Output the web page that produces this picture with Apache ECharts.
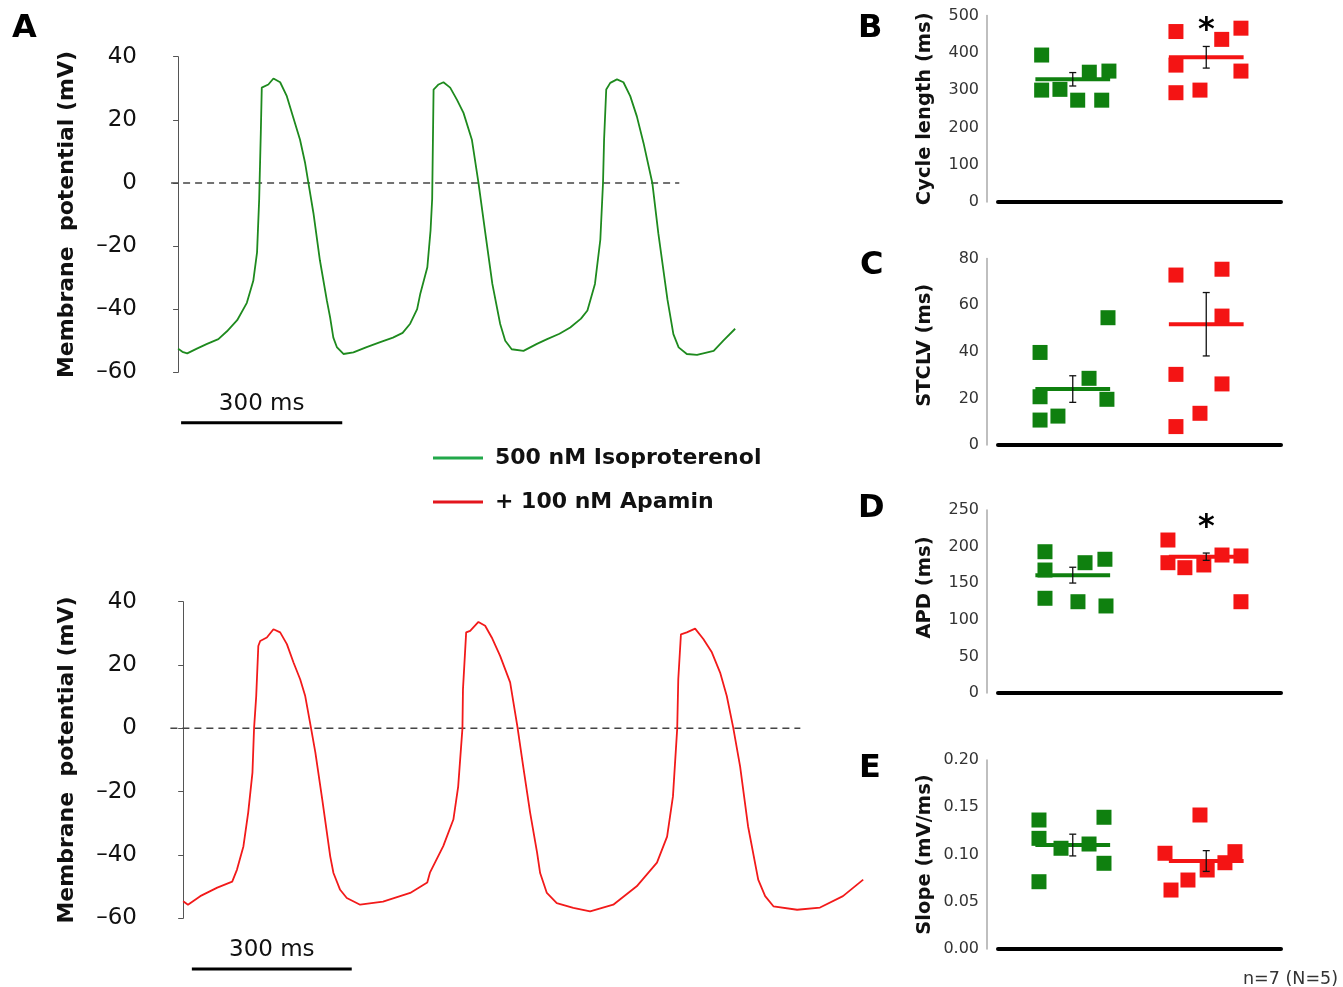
<!DOCTYPE html>
<html>
<head>
<meta charset="utf-8">
<script src="https://cdn.jsdelivr.net/npm/echarts@6/dist/echarts.min.js"></script>
<style>
html,body{margin:0;padding:0;background:#fff;}
#chart{width:1343px;height:987px;}
</style>
</head>
<body>
<div id="chart"></div>
<script>
// ---------------- DATA ----------------
const groups = ['500 nM Isoproterenol', '+ 100 nM Apamin'];

// Panel A traces: [time (ms), membrane potential (mV)]
const traceIso = [[0,-52.5],[8,-53.5],[17,-54],[35,-52.5],[54,-51],[75,-49.5],[91,-47],[110,-43.5],[128,-38],[140,-31],[147,-22],[151,-5],[154,16],[155.8,30.2],[168,31.2],[177.5,33.1],[190,31.9],[202.4,27.5],[214.7,20.6],[227,13.7],[236.5,6.3],[242.6,0],[252,-9.6],[264,-24.5],[277,-37.3],[283,-42.6],[289,-49],[295.5,-52],[307.8,-54.2],[326.4,-53.7],[351,-52],[375,-50.5],[400,-49],[418,-47.5],[432,-44.6],[445,-40],[451,-35],[464,-26.7],[470,-15],[473,-5],[475.6,29.6],[484.9,31.2],[494,31.9],[506.5,30.2],[519,26.4],[531.3,22.2],[546.9,13.7],[559.2,0],[572,-16],[585,-32],[599.6,-44.7],[609,-50],[621,-52.7],[643,-53.2],[668,-51],[687,-49.5],[710,-47.8],[730,-45.8],[750,-43],[762,-40.4],[776,-32],[786,-18],[791,0],[793,13.7],[797,29.6],[804.5,31.7],[817,32.8],[829,31.9],[841.7,27.5],[854,21.1],[866.5,12.6],[882.8,0],[894,-16],[911,-37],[922,-47.9],[931.8,-52.1],[947,-54.2],[966,-54.5],[997,-53.2],[1015,-50],[1037,-46.2]];
const traceApa = [[0,-54.6],[9,-55.7],[32,-53],[64,-50.3],[92,-48.4],[101,-44.6],[113,-37.3],[122,-26.6],[130,-14],[133,0],[137,10],[141,26],[144.5,27.6],[157,28.7],[169.4,31.3],[182,30.3],[194.6,26.6],[207,20.8],[219.5,15.5],[229,10.2],[240,0],[248,-7.6],[261,-22.5],[276,-40.5],[282,-45.7],[294.5,-51],[307,-53.6],[332,-55.7],[375,-54.7],[426,-52],[458,-48.7],[463,-45.6],[488,-37.2],[507,-28.8],[516,-18.4],[524,0],[525,12.3],[531,30.3],[538.5,30.8],[554,33.6],[566.6,32.4],[579,28.7],[594.7,22.9],[613.5,14.5],[627,0.7],[638,-12],[651,-26.6],[664,-39.2],[669.8,-45.7],[682.4,-52],[701,-55.2],[732,-56.7],[763.6,-57.8],[807,-55.7],[851,-49.9],[889,-42.4],[908,-34.2],[919,-21.5],[927,0],[929,15.5],[934,29.7],[945,30.3],[960.6,31.5],[976,28.2],[992,24],[1007.5,17.6],[1020,10.2],[1032,0.3],[1045,-12],[1060,-31],[1079,-47.8],[1092,-53],[1107.5,-56.2],[1152,-57.3],[1195,-56.6],[1238,-53],[1276,-47.8]];
const zeroLineIso = [-13, 933];      // ms extent of the 0 mV reference line
const zeroLineApa = [-24, 1158];
const scaleBarMs = 300;
const scaleBarStartIso = 5.6, scaleBarStartApa = 16.3;

// Panels B-E (n = 7 each); index 0 = Isoproterenol, 1 = + Apamin
const cycleIso = [394, 300, 302, 273, 348, 273, 351];
const cycleApa = [457, 300, 293, 436, 466, 367, 351];
const cycleMean = [329, 388], cycleSem = [18, 29];

const stclvIso = [39.7, 20.7, 10.7, 12.4, 28.6, 54.6, 19.6];
const stclvApa = [72.9, 75.4, 55.3, 30.3, 26.2, 13.6, 7.9];
const stclvMean = [24, 51.8], stclvSem = [5.7, 13.6];

const apdIso = [193, 168, 129.4, 124.7, 178, 182.7, 118.9];
const apdApa = [209, 178, 171.2, 174.9, 188.5, 187.2, 124.7];
const apdMean = [161, 186.2], apdSem = [10.8, 5];

const slopeIso = [0.1365, 0.1171, 0.0712, 0.1066, 0.1111, 0.1394, 0.0907];
const slopeApa = [0.1418, 0.1013, 0.0624, 0.0730, 0.0836, 0.0913, 0.1030];
const slopeMean = [0.110, 0.0931], slopeSem = [0.0115, 0.011];

// horizontal jitter of the dots around group 1 / group 2
const jitB = [[0.767,0.767,0.904,1.037,1.124,1.217,1.271],[1.773,1.953,1.773,2.116,2.26,1.773,2.26]];
const jitC = [[0.755,0.755,0.755,0.889,1.122,1.264,1.256],[1.773,2.118,2.118,1.773,2.118,1.953,1.773]];
const jitD = [[0.792,0.792,0.792,1.039,1.092,1.241,1.249],[1.713,1.713,1.84,1.982,2.118,2.26,2.26]];
const jitE = [[0.747,0.747,0.747,0.912,1.122,1.234,1.234],[1.953,1.691,1.736,1.863,2.007,2.14,2.215]];

const starB = 477, starD = 235;   // significance markers (* vs isoproterenol)
const nLabel = 'n=7 (N=5)';

// ---------------- STYLE ----------------
const FONT = "'DejaVu Sans', sans-serif";
const TRACE_COL = ['#1e8a1e', '#f21a1a'];
const LEG_COL = ['#22a84a', '#e3161d'];
const SQ_COL = ['#0f800f', '#f41414'];
const HALF = 0.28;

const chart = echarts.init(document.getElementById('chart'), null, {renderer: 'canvas'});

const grids = [
  {left: 148, top: 56.7, width: 621, height: 315.6},
  {left: 148, top: 601.7, width: 728, height: 316.6},
  {left: 998, top: 15.5, width: 283, height: 186.5},
  {left: 998, top: 258.5, width: 283, height: 186.5},
  {left: 998, top: 510, width: 283, height: 183},
  {left: 998, top: 760, width: 283, height: 189}
];

const xAxes = [
  {gridIndex: 0, type: 'value', min: -56, max: 1100, show: false},
  {gridIndex: 1, type: 'value', min: -66, max: 1300, show: false}
];
for (let g = 2; g < 6; g++) {
  xAxes.push({gridIndex: g, type: 'value', min: 0.44, max: 2.56,
    axisLine: {show: true, lineStyle: {color: '#000', width: 4}},
    axisTick: {show: false}, axisLabel: {show: false}, splitLine: {show: false}});
}

function traceY(gi) {
  return {gridIndex: gi, type: 'value', min: -60, max: 40, interval: 20,
    name: 'Membrane  potential (mV)', nameLocation: 'middle', nameGap: 70,
    nameTextStyle: {fontFamily: FONT, fontWeight: 'bold', fontSize: 22, color: '#111'},
    axisLine: {show: true, lineStyle: {color: '#555', width: 1}},
    axisTick: {show: true, length: 5, lineStyle: {color: '#555'}},
    axisLabel: {fontFamily: FONT, fontSize: 23, color: '#111', margin: 11,
      formatter: v => String(v).replace('-', '\u2013')},
    splitLine: {show: false}};
}
function statY(gi, name, max, interval, fmt, pad) {
  return {gridIndex: gi, type: 'value', min: 0, max: max, interval: interval, offset: 11,
    name: name, nameLocation: 'middle', nameGap: 52,
    nameTextStyle: {fontFamily: FONT, fontWeight: 'bold', fontSize: 19.5, color: '#111', padding: pad},
    axisLine: {show: true, lineStyle: {color: '#aaa', width: 1.5}},
    axisTick: {show: false},
    axisLabel: {fontFamily: FONT, fontSize: 16, color: '#333', margin: 8, formatter: fmt},
    splitLine: {show: false}};
}
const yAxes = [
  traceY(0), traceY(1),
  statY(2, 'Cycle length (ms)', 500, 100, null, [0,0,0,0]),
  statY(3, 'STCLV (ms)', 80, 20, null, [0,0,0,13]),
  statY(4, 'APD (ms)', 250, 50, null, [0,0,0,28]),
  statY(5, 'Slope (mV/ms)', 0.2, 0.05, v => v.toFixed(2), [0,0,0,0])
];

const series = [];
// ---- Panel A traces ----
function tracePanel(idx, data, zero, sbStart, color, name) {
  series.push({type: 'line', name: 'zero' + idx, xAxisIndex: idx, yAxisIndex: idx,
    data: [[zero[0], 0], [zero[1], 0]], symbol: 'none', silent: true,
    lineStyle: {color: '#444', width: 1.5, type: [7, 5]}, z: 1});
  series.push({type: 'line', name: name, xAxisIndex: idx, yAxisIndex: idx, data: data,
    symbol: 'none', lineStyle: {color: color, width: 1.8}, itemStyle: {color: color}, z: 2});
  // scale bar below the trace
  series.push({type: 'line', name: 'bar' + idx, xAxisIndex: idx, yAxisIndex: idx, clip: false,
    data: [[sbStart, -76], [sbStart + scaleBarMs, -76]], symbol: 'none',
    lineStyle: {color: '#000', width: 3}, z: 2});
  series.push({type: 'scatter', name: 'barlabel' + idx, xAxisIndex: idx, yAxisIndex: idx, clip: false,
    data: [[sbStart + scaleBarMs / 2, -70]], symbolSize: 1, itemStyle: {color: 'rgba(0,0,0,0)', opacity: 1},
    label: {show: true, position: 'inside', formatter: scaleBarMs + ' ms',
      fontFamily: FONT, fontSize: 23, color: '#111'}, silent: true});
}
tracePanel(0, traceIso, zeroLineIso, scaleBarStartIso, TRACE_COL[0], groups[0]);
tracePanel(1, traceApa, zeroLineApa, scaleBarStartApa, TRACE_COL[1], groups[1]);

// ---- Panels B-E ----
function statPanel(idx, vals, jit, mean, sem, star) {
  [0, 1].forEach(k => {
    series.push({type: 'scatter', name: 'dots' + idx + k, xAxisIndex: idx, yAxisIndex: idx,
      symbol: 'rect', symbolSize: 15, itemStyle: {color: SQ_COL[k], opacity: 1},
      data: vals[k].map((v, i) => [jit[k][i], v]), z: 2});
    series.push({type: 'line', name: 'mean' + idx + k, xAxisIndex: idx, yAxisIndex: idx,
      data: [[k + 1 - HALF, mean[k]], [k + 1 + HALF, mean[k]]], symbol: 'none',
      lineStyle: {color: SQ_COL[k], width: 4}, z: 3});
  });
  series.push({type: 'custom', name: 'err' + idx, xAxisIndex: idx, yAxisIndex: idx, z: 5,
    data: mean.map((m, k) => [k + 1, m - sem[k], m + sem[k]]),
    encode: {x: 0, y: [1, 2]},
    renderItem: (params, api) => {
      const x = api.value(0);
      const top = api.coord([x, api.value(2)]);
      const bot = api.coord([x, api.value(1)]);
      const cw = 3.5;
      const st = {stroke: '#111', lineWidth: 1.3};
      return {type: 'group', children: [
        {type: 'line', shape: {x1: top[0], y1: top[1], x2: bot[0], y2: bot[1]}, style: st},
        {type: 'line', shape: {x1: top[0] - cw, y1: top[1], x2: top[0] + cw, y2: top[1]}, style: st},
        {type: 'line', shape: {x1: bot[0] - cw, y1: bot[1], x2: bot[0] + cw, y2: bot[1]}, style: st}
      ]};
    }});
  if (star != null) {
    series.push({type: 'scatter', name: 'star' + idx, xAxisIndex: idx, yAxisIndex: idx, clip: false,
      data: [[2, star]], symbolSize: 1, itemStyle: {color: 'rgba(0,0,0,0)', opacity: 1}, silent: true,
      label: {show: true, position: 'inside', formatter: '*', offset: [0, 7],
        fontFamily: FONT, fontWeight: 'bold', fontSize: 32, color: '#000'}, z: 6});
  }
}
statPanel(2, [cycleIso, cycleApa], jitB, cycleMean, cycleSem, starB);
statPanel(3, [stclvIso, stclvApa], jitC, stclvMean, stclvSem, null);
statPanel(4, [apdIso, apdApa], jitD, apdMean, apdSem, starD);
statPanel(5, [slopeIso, slopeApa], jitE, slopeMean, slopeSem, null);

const letterStyle = {fontFamily: FONT, fontWeight: 'bold', fontSize: 32, color: '#000'};
const option = {
  animation: false,
  backgroundColor: '#fff',
  title: [
    {text: 'A', left: 7, top: 8, textStyle: letterStyle},
    {text: 'B', left: 853, top: 8, textStyle: letterStyle},
    {text: 'C', left: 855, top: 245, textStyle: letterStyle},
    {text: 'D', left: 853, top: 488, textStyle: letterStyle},
    {text: 'E', left: 854, top: 748, textStyle: letterStyle},
    {text: nLabel, right: 0, top: 965, textStyle: {fontFamily: FONT, fontWeight: 'normal', fontSize: 17.5, color: '#333'}}
  ],
  legend: {
    orient: 'vertical', left: 433, top: 447, padding: 0, itemWidth: 50, itemHeight: 3, itemGap: 22,
    icon: 'rect', selectedMode: false,
    data: [
      {name: groups[0], itemStyle: {color: LEG_COL[0]}},
      {name: groups[1], itemStyle: {color: LEG_COL[1]}}
    ],
    textStyle: {fontFamily: FONT, fontWeight: 'bold', fontSize: 22, color: '#111', padding: [0, 0, 0, 7]}
  },
  grid: grids,
  xAxis: xAxes,
  yAxis: yAxes,
  series: series
};
chart.setOption(option);
</script>
</body>
</html>
